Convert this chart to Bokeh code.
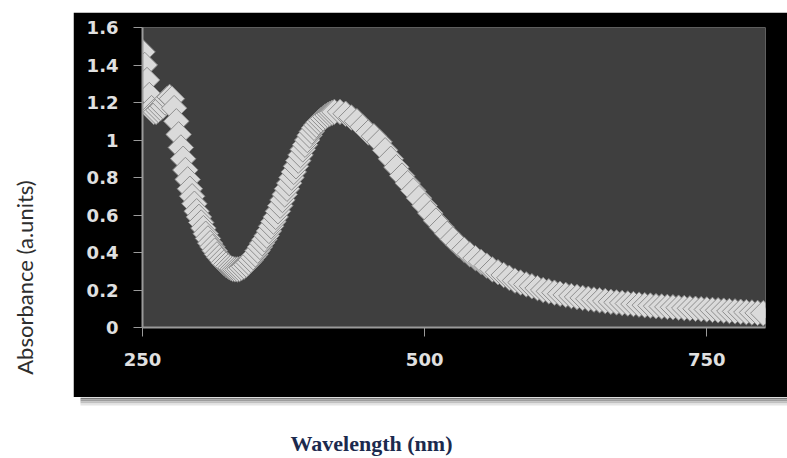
import math
from bokeh.plotting import figure
from bokeh.models import BoxAnnotation, Label, Range1d, FixedTicker, Spacer
from bokeh.layouts import row, column
from bokeh.embed import file_html
from bokeh.resources import INLINE

wavelength = [250, 252, 254, 256, 258, 260, 262, 264, 266, 268, 270, 272, 274, 276, 278, 280,
              282, 284, 286, 288, 290, 292, 294, 296, 298, 300, 302, 304, 306, 308, 310, 312,
              314, 316, 318, 320, 322, 324, 326, 328, 330, 332, 334, 336, 338, 340, 342, 344,
              346, 348, 350, 352, 354, 356, 358, 360, 362, 364, 366, 368, 370, 372, 374, 376,
              378, 380, 382, 384, 386, 388, 390, 392, 394, 396, 398, 400, 402, 404, 406, 408,
              410, 412, 414, 416, 418, 420, 425, 430, 435, 440, 445, 450, 455, 460, 465, 470,
              475, 480, 485, 490, 495, 500, 505, 510, 515, 520, 525, 530, 535, 540, 545, 550,
              555, 560, 565, 570, 575, 580, 585, 590, 595, 600, 605, 610, 615, 620, 625, 630,
              635, 640, 645, 650, 655, 660, 665, 670, 675, 680, 685, 690, 695, 700, 705, 710,
              715, 720, 725, 730, 735, 740, 745, 750, 755, 760, 765, 770, 775, 780, 785, 790,
              795, 800]
absorbance = [1.47, 1.40, 1.32, 1.24, 1.17, 1.15, 1.15, 1.16, 1.17, 1.18, 1.20, 1.22, 1.23, 1.22, 1.17, 1.10,
              1.03, 0.96, 0.90, 0.84, 0.79, 0.74, 0.70, 0.66, 0.62, 0.59, 0.56, 0.53, 0.50, 0.475, 0.45, 0.43,
              0.41, 0.39, 0.375, 0.36, 0.345, 0.335, 0.325, 0.318, 0.313, 0.31, 0.31, 0.312, 0.318, 0.325, 0.335, 0.347,
              0.36, 0.375, 0.39, 0.41, 0.43, 0.45, 0.47, 0.49, 0.515, 0.54, 0.565, 0.59, 0.62, 0.65, 0.68, 0.71,
              0.74, 0.77, 0.80, 0.83, 0.86, 0.89, 0.92, 0.95, 0.975, 1.00, 1.025, 1.045, 1.065, 1.08, 1.095, 1.105,
              1.115, 1.125, 1.133, 1.14, 1.145, 1.15, 1.15, 1.14, 1.12, 1.10, 1.07, 1.04, 1.02, 0.99, 0.945, 0.90,
              0.855, 0.81, 0.77, 0.73, 0.69, 0.65, 0.61, 0.57, 0.535, 0.50, 0.47, 0.44, 0.415, 0.39, 0.37, 0.35,
              0.33, 0.31, 0.295, 0.28, 0.265, 0.25, 0.24, 0.23, 0.22, 0.21, 0.20, 0.193, 0.186, 0.18, 0.174, 0.168,
              0.163, 0.158, 0.153, 0.149, 0.145, 0.141, 0.137, 0.134, 0.131, 0.128, 0.125, 0.122, 0.119, 0.117, 0.114, 0.112,
              0.110, 0.108, 0.106, 0.104, 0.102, 0.100, 0.098, 0.096, 0.094, 0.092, 0.090, 0.088, 0.086, 0.084, 0.082, 0.080,
              0.078, 0.076]

x_ticks = [250, 500, 750]
y_ticks = [0, 0.2, 0.4, 0.6, 0.8, 1.0, 1.2, 1.4, 1.6]
y_tick_labels = ["0", "0.2", "0.4", "0.6", "0.8", "1", "1.2", "1.4", "1.6"]
x_title = "Wavelength (nm)"
y_title = "Absorbance (a.units)"

# ---- main chart (black box) ----
p = figure(width=714, height=385, x_range=Range1d(250, 802), y_range=Range1d(0, 1.6),
           output_backend="svg", toolbar_location=None,
           min_border_left=69, min_border_right=22, min_border_top=15, min_border_bottom=70,
           border_fill_color="black", background_fill_color="#3f3f3f", outline_line_color=None)

p.scatter(wavelength, absorbance, marker="square", angle=math.pi / 4, size=18,
          fill_color="#dadada", line_color="#8e8e8e", line_width=1)

p.grid.visible = False
for ax in (p.xaxis[0], p.yaxis[0]):
    ax.axis_line_color = "#9a9a9a"
    ax.axis_line_width = 2
    ax.major_tick_line_color = "#9a9a9a"
    ax.major_tick_line_width = 1
    ax.major_tick_in = 0
    ax.major_tick_out = 9
    ax.minor_tick_line_color = None
    ax.major_label_text_color = "#e0e0e0"
    ax.major_label_text_font = "DejaVu Sans"
    ax.major_label_text_font_style = "bold"
    ax.major_label_text_font_size = "18px"
p.xaxis.ticker = FixedTicker(ticks=x_ticks)
p.yaxis.ticker = FixedTicker(ticks=y_ticks)
p.yaxis.major_label_overrides = {t: l for t, l in zip(y_ticks, y_tick_labels)}
p.xaxis.major_label_standoff = 16
p.yaxis.major_label_standoff = 15

# ---- y title strip (left, white) ----
ylab = figure(width=73, height=458, x_range=Range1d(0, 73), y_range=Range1d(458, 0),
              output_backend="svg", toolbar_location=None, min_border=0,
              x_axis_location=None, y_axis_location=None,
              border_fill_color="white", background_fill_color="white", outline_line_color=None)
ylab.grid.visible = False
ylab.add_layout(Label(x=24, y=277, text=y_title, angle=math.pi / 2,
                      text_align="center", text_baseline="middle",
                      text_font="Lato", text_font_size="22px", text_color="#2e2e2e"))

# ---- bottom strip (shadow + x title) ----
bot = figure(width=714, height=61, x_range=Range1d(73, 787), y_range=Range1d(458, 397),
             output_backend="svg", toolbar_location=None, min_border=0,
             x_axis_location=None, y_axis_location=None,
             border_fill_color="white", background_fill_color="white", outline_line_color=None)
bot.grid.visible = False
for (t, b, c) in [(397, 399, "#7a7a7a"), (399, 401, "#9c9c9c"), (401, 403, "#c0c0c0"), (403, 405, "#e4e4e4")]:
    bot.add_layout(BoxAnnotation(left=80, right=787, top=t, bottom=b, fill_color=c, fill_alpha=1,
                                 line_color=None, level="underlay"))
bot.add_layout(Label(x=371, y=443, text=x_title, text_align="center", text_baseline="middle",
                     text_font="Liberation Serif", text_font_style="bold", text_font_size="22px",
                     text_color="#1c2a4e"))

layout = row(ylab, column(Spacer(width=714, height=12), p, column(bot, spacing=0), spacing=0), spacing=0)

open("out.html", "w").write(file_html(layout, INLINE))
